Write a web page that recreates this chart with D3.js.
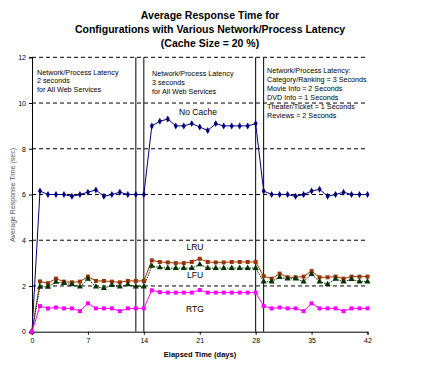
<!DOCTYPE html>
<html><head><meta charset="utf-8">
<script src="https://cdn.jsdelivr.net/npm/d3@7"></script>
<style>body{margin:0;background:#fff}svg{display:block;font-family:"Liberation Sans",Arial,sans-serif}</style>
</head><body><svg id="c" width="421" height="369"></svg>
<script>
const days = [0,1,2,3,4,5,6,7,8,9,10,11,12,13,14,15,16,17,18,19,20,21,22,23,24,25,26,27,28,29,30,31,32,33,34,35,36,37,38,39,40,41,42];
const noCache = [0, 6.15,6.0,6.0,6.0,5.92,6.0,6.1,6.2,5.92,6.0,6.1,6.0,6.0,6.0, 9.0,9.2,9.3,9.0,9.0,9.1,8.95,8.8,9.1,9.0,9.0,9.0,9.0,9.1, 6.15,6.0,6.0,6.0,5.92,6.0,6.15,6.23,5.92,6.0,6.1,6.0,6.0,6.0];
const lru = [0, 2.2,2.12,2.32,2.19,2.16,2.19,2.41,2.22,2.22,2.19,2.16,2.22,2.22,2.22, 3.12,3.05,3.03,3.0,3.0,3.05,3.19,3.05,3.03,3.03,3.05,3.05,3.05,3.05, 2.43,2.32,2.54,2.38,2.38,2.41,2.65,2.38,2.38,2.41,2.32,2.41,2.41,2.41];
const lfu = [0, 1.96,1.96,2.17,2.12,2.06,1.97,2.3,1.97,1.9,2.03,1.97,2.06,1.97,1.97, 2.87,2.81,2.78,2.78,2.78,2.78,2.94,2.78,2.78,2.78,2.78,2.78,2.78,2.78, 2.19,2.19,2.38,2.32,2.32,2.19,2.51,2.19,2.08,2.3,2.19,2.29,2.19,2.19];
const rtg = [0, 1.12,1.02,1.06,1.02,1.02,0.9,1.24,1.02,1.02,1.02,0.9,1.02,1.02,1.02, 1.81,1.73,1.71,1.71,1.71,1.71,1.82,1.71,1.71,1.71,1.71,1.71,1.71,1.71, 1.12,1.02,1.06,1.02,1.02,0.9,1.24,1.02,1.02,1.02,0.9,1.02,1.02,1.02];
const xTicks = [0,7,14,21,28,35,42];
const yTicks = [0,2,4,6,8,10,12];
const gridValues = [2,4,6,8,10,12];
const phaseLines = [13,14,28,29];
const titleLines = ["Average Response Time for","Configurations with Various Network/Process Latency","(Cache Size  = 20 %)"];
const note1 = ["Network/Process Latency","2 seconds","for All Web Services"];
const note2 = ["Network/Process Latency","3 seconds","for All Web Services"];
const note3 = ["Network/Process Latency:","Category/Ranking = 3 Seconds","Movie Info = 2 Seconds","DVD Info = 1 Seconds","Theater/Ticket = 1 Seconds","Reviews = 2 Seconds"];
const seriesNames = ["No Cache","LRU","LFU","RTG"];

const svg = d3.select("#c");
const x = d3.scaleLinear().domain([0,42]).range([32,367.5]);
const y = d3.scaleLinear().domain([0,12]).range([331.7,57.3]);

// title
svg.append("g").selectAll("text").data(titleLines).join("text")
  .attr("x",210).attr("y",(d,i)=>18.5+i*14).attr("text-anchor","middle")
  .attr("font-size",10.5).attr("font-weight","bold").text(d=>d);

// grid
svg.append("g").selectAll("line").data(gridValues).join("line")
  .attr("x1",x(0)).attr("x2",x(42)).attr("y1",d=>y(d)).attr("y2",d=>y(d))
  .attr("stroke","#000").attr("stroke-width",1).attr("stroke-dasharray","4,3");

// phase lines
svg.append("g").selectAll("line").data(phaseLines).join("line")
  .attr("x1",d=>x(d)).attr("x2",d=>x(d)).attr("y1",y(0)).attr("y2",y(12))
  .attr("stroke","#000").attr("stroke-width",1);

// axes
const yAxis = svg.append("g").attr("transform",`translate(${x(0)},0)`)
  .call(d3.axisLeft(y).tickValues(yTicks).tickSize(3).tickPadding(3));
const xAxis = svg.append("g").attr("transform",`translate(0,${y(0)})`)
  .call(d3.axisBottom(x).tickValues(xTicks).tickSize(3).tickPadding(3));
[yAxis,xAxis].forEach(a=>{
  a.select(".domain").attr("stroke","#000");
  a.selectAll("text").attr("font-size",7).attr("font-family","Liberation Sans, Arial, sans-serif").attr("fill","#000");
});

svg.append("text").attr("x",200).attr("y",357).attr("text-anchor","middle")
  .attr("font-size",7.5).attr("font-weight","bold").text("Elapsed Time (days)");
svg.append("text").attr("transform","translate(15,195) rotate(-90)").attr("text-anchor","middle")
  .attr("font-size",7).attr("fill","#555").text("Average Response Time (sec)");

// notes
function note(lines,x0,y0,dy){
  svg.append("g").selectAll("text").data(lines).join("text")
    .attr("x",x0).attr("y",(d,i)=>y0+i*dy).attr("font-size",7.2).text(d=>d);
}
note(note1,37,74.5,8.7);
note(note2,152,76,8.8);
note(note3,267,73.3,9.0);

// series
const series = [
  {name:seriesNames[0],vals:noCache,color:"#000080",marker:"diamond",dash:null},
  {name:seriesNames[1],vals:lru,color:"#993300",marker:"square",dash:null},
  {name:seriesNames[2],vals:lfu,color:"#003300",marker:"triangle",dash:"1.5,1"},
  {name:seriesNames[3],vals:rtg,color:"#FF00FF",marker:"square",dash:null}
];
const line = d3.line().x(d=>x(d[0])).y(d=>y(d[1]));
const sym = {diamond:d3.symbol(d3.symbolDiamond,14),square:d3.symbol(d3.symbolSquare,16),triangle:d3.symbol(d3.symbolTriangle,16)};
series.forEach(s=>{
  const pts = days.map((d,i)=>[d,s.vals[i]]);
  svg.append("path").datum(pts).attr("d",line).attr("fill","none")
    .attr("stroke",s.color).attr("stroke-width",1).attr("stroke-dasharray",s.dash);
  svg.append("g").selectAll("path").data(pts).join("path")
    .attr("transform",d=>`translate(${x(d[0])},${y(d[1])})`)
    .attr("d",sym[s.marker]()).attr("fill",s.color);
});

// series labels
const labelPos = [[198,115],[195,250],[195,278],[195,311.5]];
svg.append("g").selectAll("text").data(seriesNames).join("text")
  .attr("x",(d,i)=>labelPos[i][0]).attr("y",(d,i)=>labelPos[i][1]).attr("text-anchor","middle")
  .attr("font-size",8.5).text(d=>d);
</script></body></html>
